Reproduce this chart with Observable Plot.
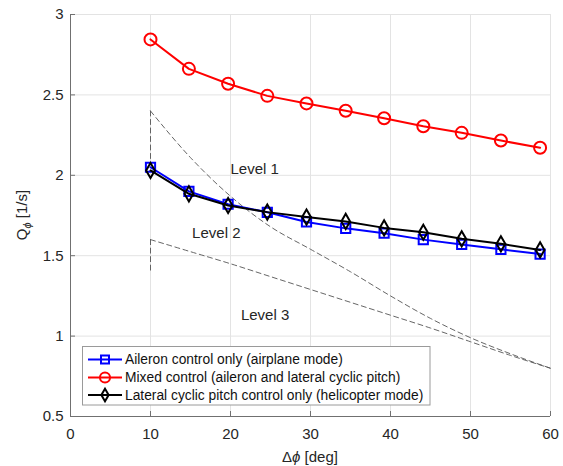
<!DOCTYPE html>
<html><head><meta charset="utf-8">
<script src="https://cdn.jsdelivr.net/npm/d3@7"></script>
<script src="https://cdn.jsdelivr.net/npm/@observablehq/plot@0.6"></script>
<style>
body{margin:0;background:#fff;}
#chart{position:relative;width:563px;height:466px;}
</style>
</head><body><div id="chart"></div>
<script>
// ---- data ----
const dphi = [10, 14.8, 19.7, 24.6, 29.5, 34.4, 39.2, 44.1, 48.9, 53.8, 58.7];
const aileron = [2.05, 1.90, 1.82, 1.77, 1.71, 1.67, 1.64, 1.60, 1.57, 1.54, 1.51];
const mixed = [2.845, 2.662, 2.569, 2.494, 2.447, 2.401, 2.355, 2.305, 2.264, 2.216, 2.171];
const lateral = [2.03, 1.885, 1.812, 1.771, 1.74, 1.713, 1.673, 1.646, 1.605, 1.574, 1.536];
const seriesNames = ["Aileron control only (airplane mode)", "Mixed control (aileron and lateral cyclic pitch)", "Lateral cyclic pitch control only (helicopter mode)"];
const seriesColors = ["#0000ff", "#ff0000", "#000000"];
const seriesSymbols = ["square", "circle", "diamond"];

const boundX = [10, 15, 20, 25, 30, 35, 40, 45, 50, 55, 60];
const level1Bound = [2.40, 2.11, 1.87, 1.68, 1.54, 1.40, 1.25, 1.11, 0.99, 0.89, 0.80];
const level2Bound = [1.60, 1.525, 1.45, 1.37, 1.29, 1.21, 1.13, 1.05, 0.965, 0.88, 0.80];
const level1Vert = [2.40, 2.10];
const level2Vert = [1.60, 1.40];

const levelText = ["Level 1", "Level 2", "Level 3"];
const levelX = [20, 15.2, 21.3];
const levelY = [2.04, 1.64, 1.13];

const xTicks = [0, 10, 20, 30, 40, 50, 60];
const yTicks = [0.5, 1, 1.5, 2, 2.5, 3];

// ---- build tables ----
const seriesVals = [aileron, mixed, lateral];
const rows = seriesVals.map(vals => dphi.map((x, i) => ({x, y: vals[i]})));
const b1 = boundX.map((x, i) => ({x, y: level1Bound[i]}));
const b2 = boundX.map((x, i) => ({x, y: level2Bound[i]}));
const v1 = level1Vert.map(y => ({x: boundX[0], y}));
const v2 = level2Vert.map(y => ({x: boundX[0], y}));
const labels = levelText.map((t, i) => ({t, x: levelX[i], y: levelY[i]}));

const font = "'Liberation Sans', Arial, Helvetica, sans-serif";
const dash = {stroke: "#555", strokeWidth: 0.9, strokeDasharray: "5,3.5"};

const marks = [
  Plot.gridX(xTicks, {stroke: "#e3e3e3", strokeOpacity: 1}),
  Plot.gridY(yTicks, {stroke: "#e3e3e3", strokeOpacity: 1}),
  Plot.line(b1, {x: "x", y: "y", curve: "monotone-x", ...dash}),
  Plot.line(b2, {x: "x", y: "y", curve: "monotone-x", ...dash}),
  Plot.line(v1, {x: "x", y: "y", ...dash}),
  Plot.line(v2, {x: "x", y: "y", ...dash}),
  Plot.text(labels, {x: "x", y: "y", text: "t", textAnchor: "start", lineAnchor: "middle", fontSize: 15, fill: "#262626"}),
];
rows.forEach((data, k) => {
  marks.push(Plot.line(data, {x: "x", y: "y", stroke: seriesColors[k], strokeWidth: 2}));
  marks.push(Plot.dot(data, {x: "x", y: "y", symbol: seriesSymbols[k], r: seriesSymbols[k] === "diamond" ? 4.6 : (seriesSymbols[k] === "square" ? 5.2 : 6), stroke: seriesColors[k], strokeWidth: 2, fill: "none"}));
});
marks.push(
  Plot.ruleX([0], {stroke: "#707070"}),
  Plot.ruleY([0.5], {stroke: "#707070"}),
  Plot.tickX(xTicks, {x: d => d, insetTop: 397, stroke: "#707070"}),
  Plot.tickY(yTicks, {y: d => d, insetRight: 475, stroke: "#707070"}),
  Plot.axisX(xTicks, {tickSize: 0, tickPadding: 12, label: null, fontSize: 15, fill: "#262626"}),
  Plot.axisY(yTicks, {tickSize: 0, tickPadding: 7, label: null, fontSize: 15, fill: "#262626", tickFormat: d => String(d)})
);

const svgEl = Plot.plot({
  width: 563, height: 466,
  marginLeft: 70, marginRight: 13, marginTop: 14, marginBottom: 50,
  style: {fontFamily: font, fontSize: "15px", color: "#262626", background: "white"},
  x: {domain: [0, 60]},
  y: {domain: [0.5, 3]},
  marks
});
document.getElementById("chart").appendChild(svgEl);

const svg = d3.select(svgEl);
// axis titles
const yl = svg.append("text")
  .attr("transform", "translate(27,215) rotate(-90)")
  .attr("text-anchor", "middle")
  .attr("font-family", font).attr("font-size", 15).attr("fill", "#262626");
yl.append("tspan").text("Q");
yl.append("tspan").attr("font-size", 11).attr("font-style", "italic").attr("dy", 4).text("ϕ");
yl.append("tspan").attr("dy", -4).text(" [1/s]");

const xl = svg.append("text")
  .attr("x", 310).attr("y", 462)
  .attr("text-anchor", "middle")
  .attr("font-family", font).attr("font-size", 15).attr("fill", "#262626");
xl.append("tspan").text("Δ");
xl.append("tspan").attr("font-style", "italic").text("ϕ");
xl.append("tspan").text(" [deg]");

// legend
const lg = svg.append("g").attr("text-anchor", "start");
lg.append("rect").attr("x", 82.5).attr("y", 346.5).attr("width", 347.5).attr("height", 58.5)
  .attr("fill", "white").attr("stroke", "#9a9a9a").attr("stroke-width", 1);
const rowY = [359.5, 377.5, 395];
const sym = {square: d3.symbolSquare, circle: d3.symbolCircle, diamond: d3.symbolDiamond};
const symSize = {square: 64, circle: 80, diamond: 46};
seriesNames.forEach((name, k) => {
  const g = lg.append("g").attr("transform", `translate(0,${rowY[k]})`);
  g.append("line").attr("x1", 88).attr("x2", 122).attr("stroke", seriesColors[k]).attr("stroke-width", 2);
  g.append("path").attr("transform", "translate(105,0)")
    .attr("d", d3.symbol(sym[seriesSymbols[k]], symSize[seriesSymbols[k]])())
    .attr("fill", "none").attr("stroke", seriesColors[k]).attr("stroke-width", 2);
  g.append("text").attr("x", 125).attr("dy", "0.35em").attr("text-anchor", "start")
    .attr("font-family", font).attr("font-size", 13.8).attr("fill", "#111").text(name);
});
</script></body></html>
